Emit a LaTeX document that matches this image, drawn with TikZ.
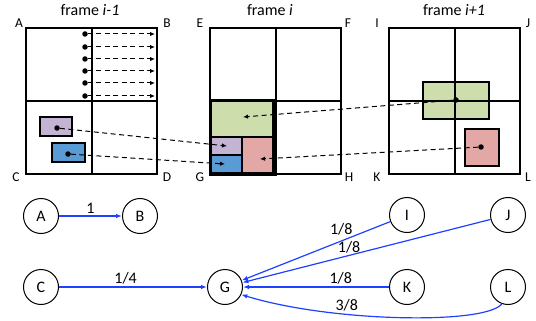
\documentclass[tikz,border=0pt]{standalone}
\usepackage{fontspec}
\setmainfont{Carlito}
\usepackage{xcolor}
\usetikzlibrary{arrows.meta}

\definecolor{mvgreen}{RGB}{205,221,172}
\definecolor{mvpurple}{RGB}{195,180,212}
\definecolor{mvblue}{RGB}{91,155,213}
\definecolor{mvred}{RGB}{227,168,165}
\definecolor{wblue}{RGB}{30,64,255}

\tikzset{
  lab/.style={font=\fontsize{16}{18}\selectfont},
  corner/.style={font=\fontsize{13.5}{16}\selectfont},
  cell/.style={line width=1.4pt},
  blk/.style={draw, line width=1.1pt},
  dot/.style={circle, fill, inner sep=0pt, minimum size=5.5pt},
  mv/.style={line width=1pt, dash pattern=on 5pt off 3.5pt, -{Latex[length=5pt,width=4.5pt]}},
  vtx/.style={circle, draw, line width=1pt, minimum size=35pt, inner sep=0pt, lab},
  wt/.style={wblue, line width=1.2pt, -{Latex[length=6pt,width=4.5pt]}},
  wlab/.style={text=black, inner sep=2pt, lab},
}

\begin{document}
\begin{tikzpicture}[x=1pt, y=-1pt]
  \useasboundingbox (0,0) rectangle (536,321);

  % titles
  \node[lab] (t1) at (90,10) {frame \textit{i-1}};
  \node[lab] (t2) at (270,10) {frame \textit{i}};
  \node[lab] (t3) at (454,10) {frame \textit{i+1}};

  % blocks of frame i-1
  \filldraw[blk, fill=mvpurple] (40,117) rectangle (72,136);
  \filldraw[blk, fill=mvblue] (52,143) rectangle (85,162);

  % blocks of frame i
  \filldraw[blk, fill=mvgreen] (211,101) rectangle (273,137);
  \filldraw[blk, fill=mvpurple] (211,137) rectangle (242,155);
  \filldraw[blk, fill=mvblue] (211,155) rectangle (242,173);
  \filldraw[blk, fill=mvred] (242,137) rectangle (273,173);

  % blocks of frame i+1
  \filldraw[blk, fill=mvgreen] (423,82) rectangle (489,119);
  \filldraw[blk, fill=mvred] (465,129) rectangle (499,166);

  % the three frames
  \foreach \fx in {26, 210, 389}{
    \draw[cell] (\fx,28) rectangle +(131,146);
    \draw[cell] (\fx+66,28) -- +(0,146);
    \draw[cell] (\fx,101) -- +(131,0);
  };
  \draw[line width=3pt] (210,101) rectangle (275,174);

  % corners
  \node[corner] (cA) at (19,23) {A};
  \node[corner] (cB) at (167,23) {B};
  \node[corner] (cC) at (16,177) {C};
  \node[corner] (cD) at (167,177) {D};
  \node[corner] (cE) at (200,23) {E};
  \node[corner] (cF) at (348,23) {F};
  \node[corner] (cG) at (200,177) {G};
  \node[corner] (cH) at (349,177) {H};
  \node[corner] (cI) at (377,23) {I};
  \node[corner] (cJ) at (528,23) {J};
  \node[corner] (cK) at (377,177) {K};
  \node[corner] (cL) at (528,177) {L};

  % rows of frame i-1 moving right
  \foreach \y in {34, 47, 59, 71, 83, 96}{
    \node[dot] (r\y) at (85,\y) {};
    \coordinate (e\y) at (155,\y);
    \draw[mv] (r\y) -- (e\y);
  };

  % motion of the blocks
  \node[dot] (pu) at (57,128) {};
  \node[dot] (bl) at (68,154) {};
  \node[dot] (gr) at (456,100) {};
  \node[dot] (rd) at (481,147) {};
  \coordinate (pu2) at (227,146);
  \coordinate (bl2) at (225,164);
  \coordinate (gr2) at (243,117);
  \coordinate (rd2) at (260,159);
  \draw[mv] (pu) -- (pu2);
  \draw[mv] (bl) -- (bl2);
  \draw[mv] (gr) -- (gr2);
  \draw[mv] (rd) -- (rd2);

  % graph
  \node[vtx] (A) at (41,216) {A};
  \node[vtx] (B) at (140,216) {B};
  \node[vtx] (C) at (41,287) {C};
  \node[vtx] (G) at (225,287) {G};
  \node[vtx] (I) at (407,215) {I};
  \node[vtx] (J) at (508,215) {J};
  \node[vtx] (K) at (407,287) {K};
  \node[vtx] (L) at (508,287) {L};

  \draw[wt] (A) -- node[wlab, above] {1} (B);
  \draw[wt] (C) -- node[wlab, pos=0.45, above] {1/4} (G);
  \draw[wt] (I) -- node[wlab, pos=0.33, above=3pt] {1/8} (G);
  \draw[wt] (J) -- node[wlab, pos=0.57, above] {1/8} (G);
  \draw[wt] (K) -- node[wlab, pos=0.33, above] {1/8} (G);
  \draw[wt] (L.-110) .. controls (485,325) and (330,322) .. node[wlab, pos=0.66, above] {3/8} (G.-25);

\end{tikzpicture}
\end{document}
